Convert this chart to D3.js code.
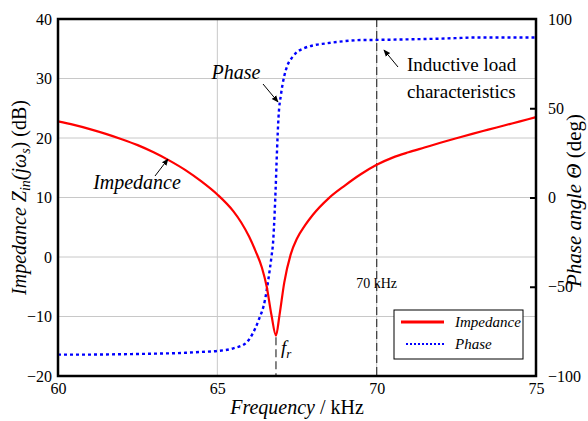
<!DOCTYPE html>
<html>
<head>
<meta charset="utf-8">
<script src="https://cdn.jsdelivr.net/npm/d3@7"></script>
<style>
  body { margin: 0; background: #fff; }
  svg text { font-family: "Liberation Serif", "DejaVu Serif", serif; fill: #000; }
</style>
</head>
<body>
<div id="chart"></div>
<script>
// chart size matches the window
var svgWidth = 588;
var svgHeight = 421;

var margin = { top: 19, right: 52, bottom: 45, left: 58 };
var width = svgWidth - margin.left - margin.right;
var height = svgHeight - margin.top - margin.bottom;

// impedance curve (kHz, dB)
var impFreq = [60, 60.5, 61, 61.5, 62, 62.5, 63, 63.5, 64, 64.5, 65, 65.5, 65.75, 66, 66.2, 66.4, 66.55, 66.7, 66.84,
               66.95, 67.1, 67.3, 67.5, 67.75, 68, 68.5, 69, 69.5, 70, 70.5, 71, 71.5, 72, 72.5, 73, 73.5, 74, 74.5, 75];
var impDb = [22.8, 22.2, 21.5, 20.7, 19.8, 18.8, 17.6, 16.2, 14.6, 12.7, 10.5, 7.7, 5.8, 3.4, 1.0, -1.8, -5.0, -9.8, -13.2,
             -9.8, -4.3, 0.4, 3.1, 5.3, 7.1, 9.9, 12.0, 13.9, 15.5, 16.7, 17.6, 18.4, 19.2, 19.95, 20.7, 21.4, 22.1, 22.8, 23.5];

// phase curve (kHz, deg)
var phFreq = [60, 61, 62, 63, 64, 64.5, 65, 65.5, 65.9, 66.1, 66.3, 66.5, 66.6, 66.7, 66.75, 66.8, 66.83, 66.87,
              66.92, 67.0, 67.1, 67.2, 67.35, 67.5, 67.7, 68, 68.4, 69, 69.5, 70, 71, 72, 72.5, 73, 75];
var phDeg = [-88, -88, -87.8, -87.5, -87, -86.5, -86, -84.5, -81.5, -76.5, -68.5, -57, -46, -33, -25, -8, 5, 25,
             45, 58, 68, 74, 78.5, 81.5, 83.5, 85.2, 86.3, 87.6, 88.2, 88.3, 88.6, 89, 89.3, 89.6, 89.6];

var xTicks = [60, 65, 70, 75];
var yLeftTicks = [-20, -10, 0, 10, 20, 30, 40];
var yRightTicks = [-100, -50, 0, 50, 100];
var fr = 66.84;
var markFreq = 70;

var serif = "'Liberation Serif', 'DejaVu Serif', serif";

var svg = d3.select("#chart")
    .append("svg")
    .attr("width", svgWidth)
    .attr("height", svgHeight)
    .attr("font-family", serif);

var g = svg.append("g")
    .attr("transform", "translate(" + margin.left + "," + margin.top + ")");

var x = d3.scaleLinear().domain([60, 75]).range([0, width]);
var yL = d3.scaleLinear().domain([-20, 40]).range([height, 0]);
var yR = d3.scaleLinear().domain([-100, 100]).range([height, 0]);

// grid
g.append("g")
    .selectAll("line")
    .data(yLeftTicks.slice(1, -1))
    .enter()
    .append("line")
    .attr("x1", 0).attr("x2", width)
    .attr("y1", d => yL(d)).attr("y2", d => yL(d))
    .attr("stroke", "#c8c8c8").attr("stroke-width", 1);

g.append("g")
    .selectAll("line")
    .data(xTicks.slice(1, -1))
    .enter()
    .append("line")
    .attr("x1", d => x(d)).attr("x2", d => x(d))
    .attr("y1", 0).attr("y2", height)
    .attr("stroke", "#c8c8c8").attr("stroke-width", 1);

// dashed markers
g.append("line")
    .attr("x1", x(markFreq)).attr("x2", x(markFreq))
    .attr("y1", 0).attr("y2", height)
    .attr("stroke", "#444").attr("stroke-width", 1.3)
    .attr("stroke-dasharray", "8,4");

g.append("line")
    .attr("x1", x(fr)).attr("x2", x(fr))
    .attr("y1", yL(-13.5)).attr("y2", height)
    .attr("stroke", "#444").attr("stroke-width", 1.3)
    .attr("stroke-dasharray", "8,4");

// curves
var impLine = d3.line()
    .x(d => x(d[0])).y(d => yL(d[1]))
    .curve(d3.curveMonotoneX);

var phLine = d3.line()
    .x(d => x(d[0])).y(d => yR(d[1]))
    .curve(d3.curveMonotoneX);

g.append("path")
    .datum(d3.zip(phFreq, phDeg))
    .attr("d", phLine)
    .attr("fill", "none")
    .attr("stroke", "#0000ff")
    .attr("stroke-width", 2.4)
    .attr("stroke-dasharray", "3,3");

g.append("path")
    .datum(d3.zip(impFreq, impDb))
    .attr("d", impLine)
    .attr("fill", "none")
    .attr("stroke", "#ff0000")
    .attr("stroke-width", 2.2);

// axes
var xAxis = g.append("g")
    .attr("transform", "translate(0," + height + ")")
    .call(d3.axisBottom(x).tickValues(xTicks).tickSize(0).tickPadding(7));
var lAxis = g.append("g")
    .call(d3.axisLeft(yL).tickValues(yLeftTicks).tickSize(0).tickPadding(6));
var rAxis = g.append("g")
    .attr("transform", "translate(" + width + ",0)")
    .call(d3.axisRight(yR).tickValues(yRightTicks).tickSize(-6).tickPadding(12));

[xAxis, lAxis, rAxis].forEach(function(a) {
    a.attr("font-family", serif).attr("font-size", 16);
    a.select(".domain").remove();
    a.selectAll("line").attr("stroke", "#000").attr("stroke-width", 2);
});
rAxis.selectAll(".tick").filter(d => d === 100 || d === -100).select("line").remove();

// frame
g.append("rect")
    .attr("width", width).attr("height", height)
    .attr("fill", "none").attr("stroke", "#000").attr("stroke-width", 2.5);

// arrow head
svg.append("defs").append("marker")
    .attr("id", "arrow")
    .attr("viewBox", "0 0 10 10")
    .attr("refX", 9).attr("refY", 5)
    .attr("markerWidth", 7).attr("markerHeight", 7)
    .attr("orient", "auto")
    .append("path").attr("d", "M0,1 L10,5 L0,9 z").attr("fill", "#000");

function arrow(x1, y1, x2, y2) {
    svg.append("line")
        .attr("x1", x1).attr("y1", y1).attr("x2", x2).attr("y2", y2)
        .attr("stroke", "#000").attr("stroke-width", 1)
        .attr("marker-end", "url(#arrow)");
}

// annotations
svg.append("text").attr("x", 236).attr("y", 79)
    .attr("text-anchor", "middle").attr("font-size", 20).attr("font-style", "italic")
    .text("Phase");
arrow(263, 84, 278, 102);

svg.append("text").attr("x", 137).attr("y", 189)
    .attr("text-anchor", "middle").attr("font-size", 20).attr("font-style", "italic")
    .text("Impedance");
arrow(155, 176, 168, 159);

svg.append("text").attr("x", 407).attr("y", 71)
    .attr("font-size", 19).text("Inductive load");
svg.append("text").attr("x", 407).attr("y", 98)
    .attr("font-size", 19).text("characteristics");
arrow(398, 67, 384, 50);

svg.append("text").attr("x", x(markFreq) + margin.left).attr("y", 288)
    .attr("text-anchor", "middle").attr("font-size", 14)
    .text("70 kHz");

var frLabel = svg.append("text").attr("x", x(fr) + margin.left + 5).attr("y", 354)
    .attr("font-size", 19).attr("font-style", "italic");
frLabel.append("tspan").text("f");
frLabel.append("tspan").attr("dy", 4).attr("font-size", 13).text("r");

// axis titles
var xt = svg.append("text")
    .attr("x", margin.left + width / 2).attr("y", 414)
    .attr("text-anchor", "middle").attr("font-size", 20);
xt.append("tspan").attr("font-style", "italic").text("Frequency");
xt.append("tspan").text(" / kHz");

var lt = svg.append("text")
    .attr("transform", "translate(26," + (margin.top + height / 2) + ") rotate(-90)")
    .attr("text-anchor", "middle").attr("font-size", 20).attr("font-style", "italic");
lt.append("tspan").text("Impedance Z");
lt.append("tspan").attr("dy", 4).attr("font-size", 14).text("in");
lt.append("tspan").attr("dy", -4).text("(jω");
lt.append("tspan").attr("dy", 4).attr("font-size", 14).text("s");
lt.append("tspan").attr("dy", -4).attr("font-style", "normal").text(") (dB)");

var rt = svg.append("text")
    .attr("transform", "translate(581," + (margin.top + height / 2 + 3) + ") rotate(-90)")
    .attr("text-anchor", "middle").attr("font-size", 21);
rt.append("tspan").attr("font-style", "italic").text("Phase angle Θ");
rt.append("tspan").text(" (deg)");

// legend
var lg = svg.append("g").attr("transform", "translate(394,310)");
lg.append("rect").attr("width", 129).attr("height", 49)
    .attr("fill", "#fff").attr("stroke", "#000").attr("stroke-width", 1);
lg.append("line").attr("x1", 7).attr("x2", 50).attr("y1", 12).attr("y2", 12)
    .attr("stroke", "#ff0000").attr("stroke-width", 3);
lg.append("line").attr("x1", 12).attr("x2", 50).attr("y1", 34).attr("y2", 34)
    .attr("stroke", "#0000ff").attr("stroke-width", 2).attr("stroke-dasharray", "2,2");
lg.append("text").attr("x", 61).attr("y", 17).attr("font-size", 15).attr("font-style", "italic").text("Impedance");
lg.append("text").attr("x", 61).attr("y", 39).attr("font-size", 15).attr("font-style", "italic").text("Phase");
</script>
</body>
</html>
